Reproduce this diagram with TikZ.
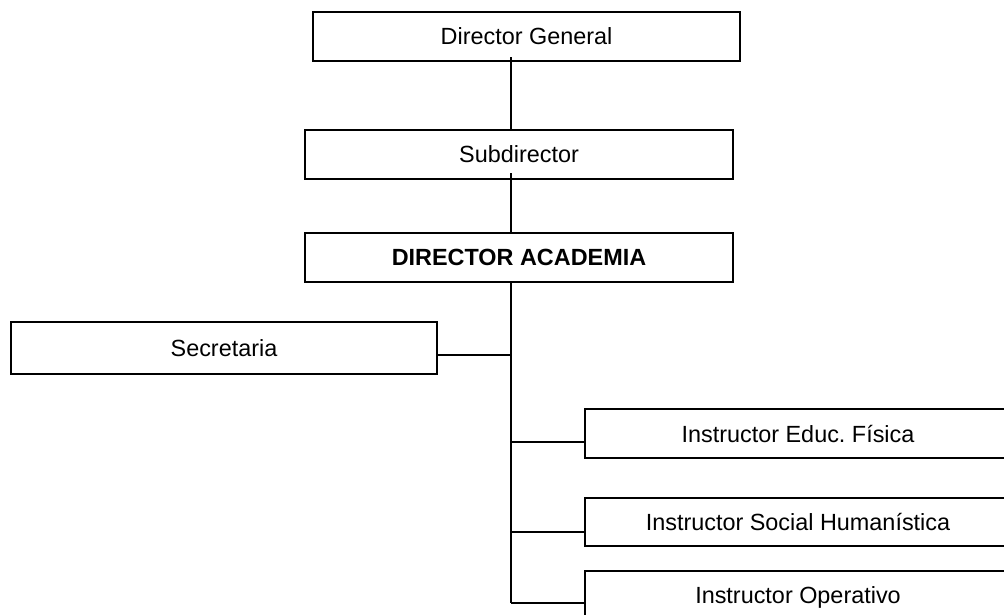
\documentclass[tikz,border=0pt]{standalone}
\usepackage{fontspec}
\setmainfont{Liberation Sans}
\begin{document}
\begin{tikzpicture}[x=1pt, y=-1pt,
  box/.style={draw=black, fill=white, line width=1.8pt, inner sep=0pt,
    font=\fontsize{23.4}{27}\selectfont},
  link/.style={draw=black, line width=1.7pt}]
\useasboundingbox (0,0) rectangle (1004,614);
\clip (0,0) rectangle (1004,614);
\fill[white] (0,0) rectangle (1004,614);

% trunk position of the chart
\coordinate (t) at (511,0);

% free ends of the vertical links
\coordinate (dgx) at (511,57);
\coordinate (sbx) at (511,173);
\coordinate (tend) at (511,603);

% boxes
\node[box, minimum width=427pt, minimum height=49pt] (dg) at (526.5,36.5) {Director General};
\node[box, minimum width=428pt, minimum height=49pt] (sub) at (519,154.5) {Subdirector};
\node[box, minimum width=428pt, minimum height=49pt] (da) at (519,257.5) {\bfseries DIRECTOR ACADEMIA};
\node[box, minimum width=426pt, minimum height=52pt] (sec) at (224,348) {Secretaria};
\node[box, minimum width=426pt, minimum height=49pt] (edu) at (798,433.5) {Instructor Educ.\ Física};
\node[box, minimum width=426pt, minimum height=48pt] (soc) at (798,522) {Instructor Social Humanística};
\node[box, minimum width=426pt, minimum height=52pt] (ope) at (798,597) {Instructor Operativo};

% vertical links
\draw[link] (dgx) -- (sub.north -| t);
\draw[link] (sbx) -- (da.north -| t);
\draw[link] (da.south -| t) -- (tend);

% horizontal branches
\draw[link] ([yshift=-7pt]sec.east) -- ([yshift=-7pt]sec.east -| t);
\draw[link] ([yshift=-8.5pt]edu.west) -- ([yshift=-8.5pt]edu.west -| t);
\draw[link] ([yshift=-10pt]soc.west) -- ([yshift=-10pt]soc.west -| t);
\draw[link] (tend) -- (tend -| ope.west);
\end{tikzpicture}
\end{document}
